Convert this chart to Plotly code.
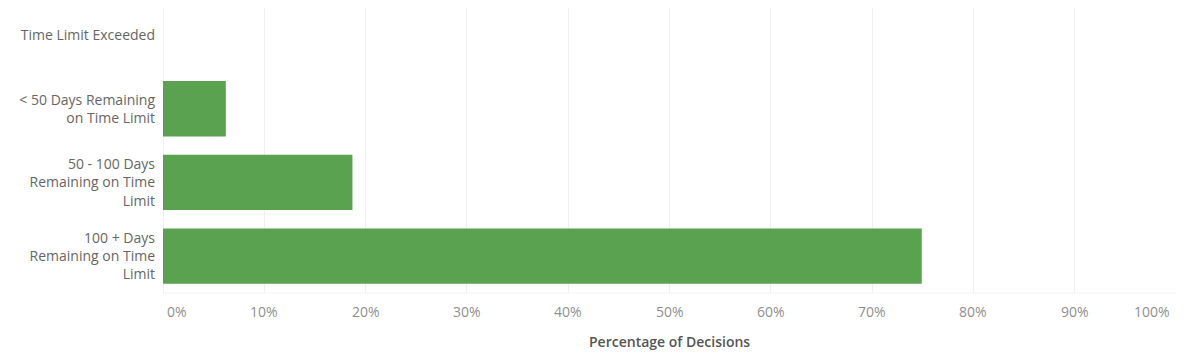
import plotly.graph_objects as go

categories = [
    "Time Limit Exceeded",
    "< 50 Days Remaining<br>on Time Limit",
    "50 - 100 Days<br>Remaining on Time<br>Limit",
    "100 + Days<br>Remaining on Time<br>Limit",
]
pct_values = [0.0, 6.2, 18.7, 74.9]
tick_vals = [0, 10, 20, 30, 40, 50, 60, 70, 80, 90, 100]
tick_text = ["0%", "10%", "20%", "30%", "40%", "50%", "60%", "70%", "80%", "90%", "100%"]

FONT = "'Open Sans', sans-serif"

fig = go.Figure()
fig.add_trace(go.Bar(
    y=categories,
    x=pct_values,
    orientation="h",
    width=0.75,
    marker=dict(color="#5aa150", line=dict(width=0)),
    hoverinfo="skip",
))

annotations = []
for v, t in zip(tick_vals, tick_text):
    anchor = "center"
    xv = v
    if v == 0:
        anchor = "left"
        xv = 0.2
    elif v == 100:
        anchor = "right"
        xv = 99.6
    annotations.append(dict(
        x=xv, y=-0.026, xref="x", yref="paper", text=t, showarrow=False,
        xanchor=anchor, yanchor="top",
        font=dict(family=FONT, size=14, color="#8f8f8f"),
    ))
annotations.append(dict(
    x=50, y=-0.131, xref="x", yref="paper", text="Percentage of Decisions",
    showarrow=False, xanchor="center", yanchor="top",
    font=dict(family=FONT, size=14, color="#555555", weight=600),
))

fig.update_layout(
    width=1200, height=364,
    margin=dict(l=155, r=32, t=0, b=79),
    paper_bgcolor="white", plot_bgcolor="white",
    showlegend=False,
    bargap=0.25,
    annotations=annotations,
    xaxis=dict(
        range=[0, 100], tickvals=tick_vals, showticklabels=False,
        showgrid=True, gridcolor="#f0f0f0", gridwidth=1,
        zeroline=True, zerolinecolor="#f0f0f0", zerolinewidth=1,
        showline=False, fixedrange=True, automargin=False,
    ),
    yaxis=dict(
        range=[3.5, -0.367], categoryorder="array", categoryarray=categories,
        tickfont=dict(family=FONT, size=14, color="#666666"),
        ticks="", ticklabelstandoff=7, showgrid=False, showline=False,
        fixedrange=True, automargin=False,
    ),
)
fig.add_shape(type="line", xref="paper", yref="paper", x0=0, x1=1, y0=0, y1=0,
              line=dict(color="#f3f3f3", width=1))

fig.write_html("out.html")
